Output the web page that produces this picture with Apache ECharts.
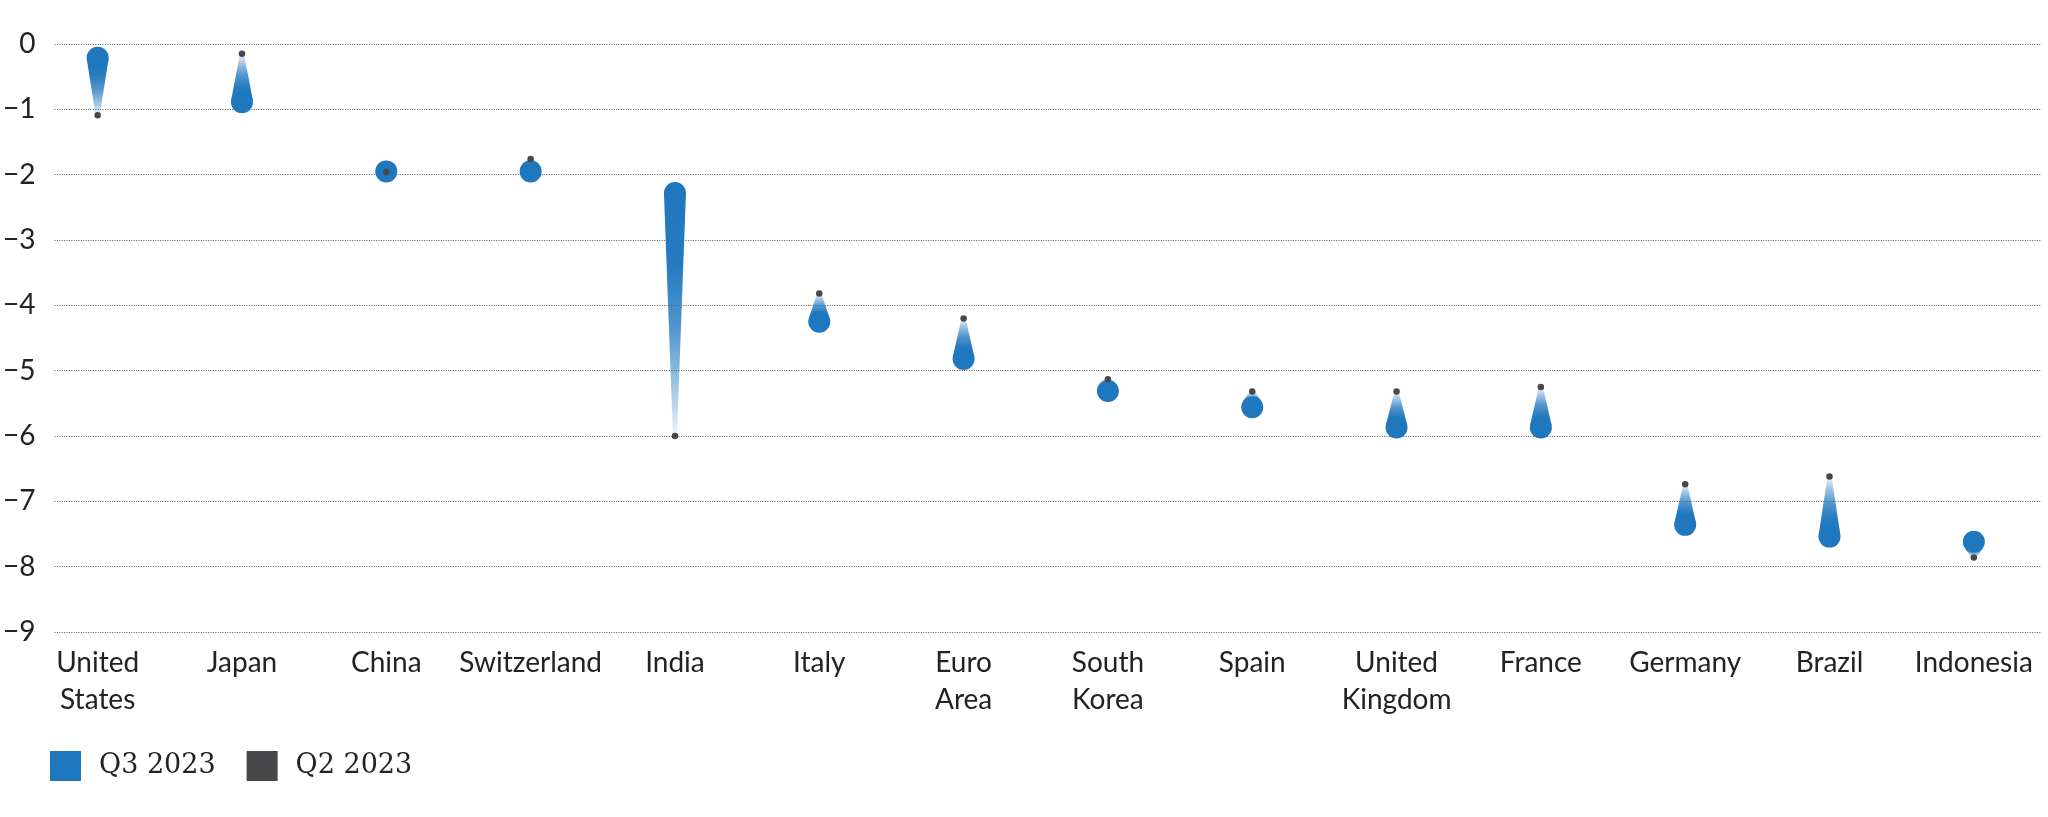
<!DOCTYPE html>
<html>
<head>
<meta charset="utf-8">
<script src="https://cdn.jsdelivr.net/npm/echarts@6/dist/echarts.min.js"></script>
<style>
  html, body { margin: 0; padding: 0; background: #ffffff; }
  #chart { width: 2048px; height: 817px; }
</style>
</head>
<body>
<div id="chart"></div>
<script>
var categories = ['United\nStates', 'Japan', 'China', 'Switzerland', 'India', 'Italy', 'Euro\nArea',
  'South\nKorea', 'Spain', 'United\nKingdom', 'France', 'Germany', 'Brazil', 'Indonesia'];
var q3Values = [-0.21, -0.89, -1.95, -1.95, -2.28, -4.25, -4.82, -5.31, -5.56, -5.87, -5.87, -7.36, -7.54, -7.62];
var q2Values = [-1.09, -0.15, -1.96, -1.76, -6.00, -3.82, -4.20, -5.13, -5.32, -5.32, -5.25, -6.74, -6.62, -7.86];
var yTicks = [0, -1, -2, -3, -4, -5, -6, -7, -8, -9];
var seriesNames = ['Q3 2023', 'Q2 2023'];

var BLUE = '#1f77be';
var GREY = '#48484a';

function blueA(a) { return 'rgba(31,119,190,' + a + ')'; }

var dropData = categories.map(function (c, i) { return [i, q3Values[i], q2Values[i]]; });

var chart = echarts.init(document.getElementById('chart'), null, { renderer: 'canvas' });

var option = {
  animation: false,
  backgroundColor: '#ffffff',
  grid: [
    { left: 52, right: 7, top: 44, bottom: 185 },
    { left: 25.5, right: 2, top: 44, bottom: 185 }
  ],
  legend: {
    data: seriesNames,
    left: 50,
    top: 751,
    padding: 0,
    icon: 'rect',
    itemWidth: 31,
    itemHeight: 30,
    itemGap: 31,
    selectedMode: false,
    itemStyle: { opacity: 1 },
    textStyle: { fontFamily: 'DejaVu Serif', fontSize: 27, color: '#222', padding: [0, 0, 0, 13] }
  },
  xAxis: [
    {
      type: 'category', gridIndex: 1, data: categories,
      axisLine: { show: false }, axisTick: { show: false }, splitLine: { show: false },
      axisLabel: { interval: 0, margin: 12, fontFamily: 'Lato', fontSize: 28, lineHeight: 37, color: '#222' }
    },
    { type: 'value', gridIndex: 0, show: false, min: 0, max: 1 }
  ],
  yAxis: [
    {
      type: 'value', gridIndex: 0, min: yTicks[yTicks.length - 1], max: yTicks[0], interval: 1,
      axisLine: { show: false }, axisTick: { show: false },
      splitLine: { show: true, lineStyle: { color: '#555555', width: 1, type: [1, 1.4] } },
      axisLabel: {
        margin: 19, fontFamily: 'Lato', fontSize: 28, color: '#222',
        formatter: function (v) { return String(v).replace('-', '\u2212'); }
      }
    },
    { type: 'value', gridIndex: 1, show: false, min: yTicks[yTicks.length - 1], max: yTicks[0] }
  ],
  series: [
    {
      name: seriesNames[0],
      type: 'custom',
      xAxisIndex: 0, yAxisIndex: 1,
      itemStyle: { color: BLUE, opacity: 1 },
      encode: { x: 0, y: 1 },
      data: dropData,
      silent: true,
      renderItem: function (params, api) {
        var i = api.value(0);
        var c = api.coord([i, api.value(1)]);
        var p = api.coord([i, api.value(2)]);
        var R = 11, h = 2;
        var children = [];
        var d = Math.abs(p[1] - c[1]);
        if (d > R - h + 0.5) {
          var dir = p[1] > c[1] ? 1 : -1;
          var cs = (R - h) / d, sn = Math.sqrt(1 - cs * cs);
          var m1 = [sn, cs * dir], m2 = [-sn, cs * dir];
          var pts = [
            [c[0] + R * m1[0], c[1] + R * m1[1]],
            [p[0] + h * m1[0], p[1] + h * m1[1]],
            [p[0] + h * m2[0], p[1] + h * m2[1]],
            [c[0] + R * m2[0], c[1] + R * m2[1]]
          ];
          children.push({
            type: 'polygon',
            shape: { points: pts },
            style: {
              fill: new echarts.graphic.LinearGradient(c[0], c[1], p[0], p[1], [
                { offset: 0, color: blueA(1) },
                { offset: 0.3, color: blueA(0.97) },
                { offset: 0.55, color: blueA(0.78) },
                { offset: 0.78, color: blueA(0.45) },
                { offset: 1, color: blueA(0.08) }
              ], true)
            }
          });
        }
        children.push({ type: 'circle', shape: { cx: c[0], cy: c[1], r: R }, style: { fill: BLUE } });
        return { type: 'group', children: children };
      }
    },
    {
      name: seriesNames[1],
      type: 'scatter',
      xAxisIndex: 0, yAxisIndex: 1,
      symbol: 'circle',
      symbolSize: 6.5,
      itemStyle: { color: GREY, opacity: 1 },
      silent: true,
      data: q2Values
    }
  ]
};
chart.setOption(option);
</script>
</body>
</html>
